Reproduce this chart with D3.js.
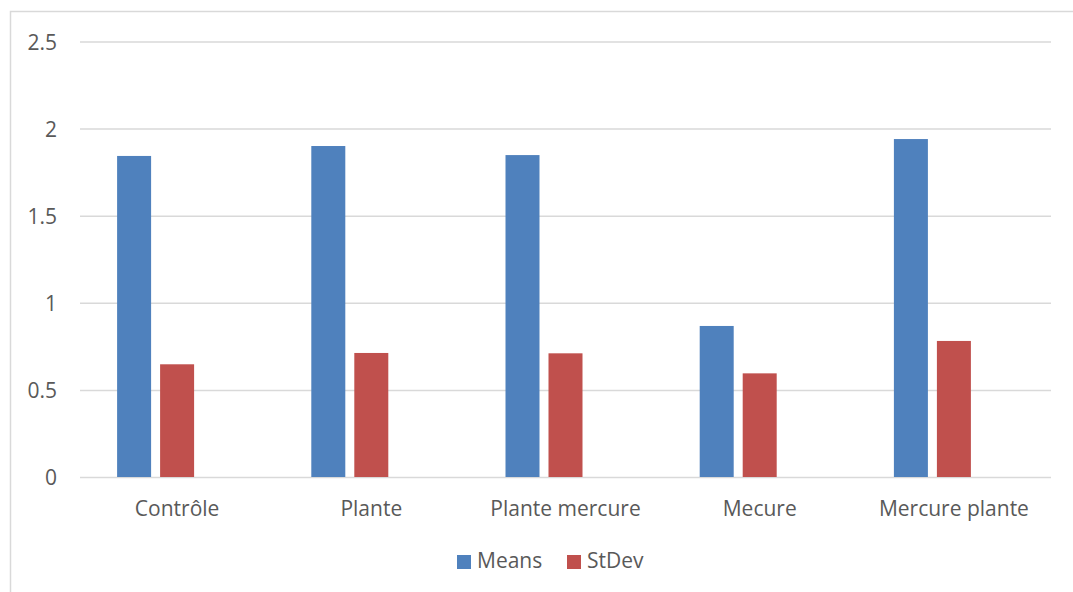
<!DOCTYPE html>
<html>
<head>
<meta charset="utf-8">
<script src="https://cdn.jsdelivr.net/npm/d3@7"></script>
<style>
  html, body { margin: 0; padding: 0; background: #fff; }
  svg { display: block; }
  text { font-family: "Open Sans", sans-serif; fill: #595959; }
</style>
</head>
<body>
<svg id="chart" width="1073" height="592"></svg>
<script>
const categories = ["Contrôle", "Plante", "Plante mercure", "Mecure", "Mercure plante"];
const means = [1.843, 1.90, 1.848, 0.867, 1.94];
const stdevs = [0.647, 0.712, 0.71, 0.595, 0.781];
const seriesNames = ["Means", "StDev", ""];
const seriesColors = ["#4F81BD", "#C0504D", "none"];
const yTicks = [0, 0.5, 1, 1.5, 2, 2.5];
const yTickLabels = ["0", "0.5", "1", "1.5", "2", "2.5"];

const svg = d3.select("#chart");
const W = 1073, H = 592;
const plot = { left: 80, right: 1051, top: 41.5, bottom: 477 };

// chart area border (top and left visible)
svg.append("path")
  .attr("d", `M10.5,${H} V11.5 H${W}`)
  .attr("fill", "none")
  .attr("stroke", "#d9d9d9")
  .attr("stroke-width", 1.5);

const x = d3.scaleBand().domain(categories).range([plot.left, plot.right]).padding(0);
const y = d3.scaleLinear().domain([0, 2.5]).range([plot.bottom, plot.top]);

const step = 43, bw = 34;
const groupW = 3 * step - (step - bw);
const outer = (x.bandwidth() - groupW) / 2;
const xi = d3.scaleBand().domain(seriesNames.map((d, i) => i))
  .range([0, x.bandwidth()])
  .paddingInner((step - bw) / step)
  .paddingOuter(outer / step);

// gridlines
const yAxis = d3.axisLeft(y).tickValues(yTicks)
  .tickSize(-(plot.right - plot.left))
  .tickFormat((d, i) => yTickLabels[i]);
const gy = svg.append("g").attr("transform", `translate(${plot.left},0)`).call(yAxis);
gy.select(".domain").remove();
gy.selectAll(".tick line").attr("stroke", "#d9d9d9").attr("stroke-width", 1.5);
gy.selectAll(".tick text")
  .attr("x", -23)
  .attr("dy", "0.36em")
  .attr("text-anchor", "end")
  .style("font-size", "21px")
  .style("font-family", "'Open Sans', sans-serif")
  .attr("fill", "#595959");

// bars
const data = [means, stdevs];
data.forEach((vals, si) => {
  svg.append("g").selectAll("rect")
    .data(vals)
    .join("rect")
    .attr("x", (d, i) => x(categories[i]) + xi(si))
    .attr("width", xi.bandwidth())
    .attr("y", d => y(d))
    .attr("height", d => y(0) - y(d))
    .attr("fill", seriesColors[si]);
});

// x axis labels
const xAxis = d3.axisBottom(x).tickSize(0).tickPadding(0);
const gx = svg.append("g").attr("transform", `translate(0,${plot.bottom})`).call(xAxis);
gx.select(".domain").remove();
gx.selectAll(".tick text")
  .attr("y", 39)
  .attr("dy", 0)
  .style("font-size", "21px")
  .style("font-family", "'Open Sans', sans-serif")
  .attr("fill", "#595959");

// legend
const legendItems = [
  { name: "Means", color: seriesColors[0], sx: 457, tx: 477 },
  { name: "StDev", color: seriesColors[1], sx: 567, tx: 587 }
];
const lg = svg.append("g");
legendItems.forEach(it => {
  lg.append("rect").attr("x", it.sx).attr("y", 555).attr("width", 14).attr("height", 14).attr("fill", it.color);
  lg.append("text").attr("x", it.tx).attr("y", 568).style("font-size", "21px").text(it.name);
});
</script>
</body>
</html>
